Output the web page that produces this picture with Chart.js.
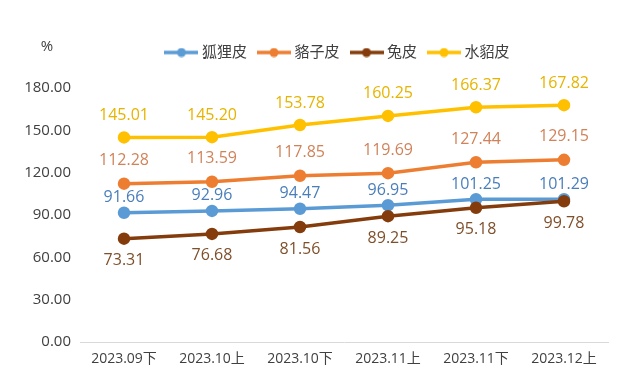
<!DOCTYPE html>
<html lang="zh">
<head>
    <meta charset="UTF-8">
    <title>皮张价格指数</title>
    <script src="https://cdn.jsdelivr.net/npm/chart.js"></script>
    <style>
        html, body { margin: 0; padding: 0; background: #fff; }
        #wrap { width: 632px; height: 387px; }
    </style>
</head>
<body>
    <div id="wrap"><canvas id="furChart" width="632" height="387"></canvas></div>

    <script>
        // Data
        const periods = ['2023.09下', '2023.10上', '2023.10下', '2023.11上', '2023.11下', '2023.12上'];
        const foxValues = [91.66, 92.96, 94.47, 96.95, 101.25, 101.29];
        const raccoonValues = [112.28, 113.59, 117.85, 119.69, 127.44, 129.15];
        const rabbitValues = [73.31, 76.68, 81.56, 89.25, 95.18, 99.78];
        const minkValues = [145.01, 145.20, 153.78, 160.25, 166.37, 167.82];
        const yTicks = [0, 30, 60, 90, 120, 150, 180];

        const FONT = "'Open Sans', 'Noto Sans CJK SC', sans-serif";

        // legend marker: short line with a dot in the middle
        function legendMarker(color) {
            const c = document.createElement('canvas');
            c.width = 34; c.height = 10;
            const g = c.getContext('2d');
            g.strokeStyle = color; g.lineWidth = 3.5;
            g.beginPath(); g.moveTo(0, 5); g.lineTo(34, 5); g.stroke();
            g.fillStyle = color;
            g.beginPath(); g.arc(17, 5, 4.5, 0, Math.PI * 2); g.fill();
            return c;
        }

        const series = [
            { label: '狐狸皮', data: foxValues, color: '#5B9BD5', text: '#4A7EBB', gap: -15, order: 3 },
            { label: '貉子皮', data: raccoonValues, color: '#ED7D31', text: '#D0835A', gap: -23, order: 2 },
            { label: '兔皮', data: rabbitValues, color: '#843C0C', text: '#7F4F2A', gap: 22, order: 1 },
            { label: '水貂皮', data: minkValues, color: '#FFC000', text: '#E6B400', gap: -22, order: 0 }
        ];

        // value labels above / below each point
        const valueLabels = {
            id: 'valueLabels',
            afterDatasetsDraw(chart) {
                const ctx = chart.ctx;
                ctx.save();
                ctx.font = '16px ' + FONT;
                ctx.textAlign = 'center';
                ctx.textBaseline = 'middle';
                chart.data.datasets.forEach((ds, i) => {
                    const s = series[i];
                    chart.getDatasetMeta(i).data.forEach((pt, j) => {
                        ctx.fillStyle = s.text;
                        ctx.fillText(ds.data[j].toFixed(2), pt.x, pt.y + s.gap);
                    });
                });
                ctx.restore();
            }
        };

        // unit text and legend placement
        const extras = {
            id: 'extras',
            afterLayout(chart) {
                const lg = chart.legend;
                lg.left += 35; lg.right += 35;
                lg.top -= 18; lg.bottom -= 18;
            },
            afterDraw(chart) {
                const ctx = chart.ctx;
                ctx.save();
                ctx.font = '15px ' + FONT;
                ctx.fillStyle = '#404040';
                ctx.textAlign = 'center';
                ctx.textBaseline = 'middle';
                ctx.fillText('%', 47, 47);
                ctx.restore();
            }
        };

        new Chart(document.getElementById('furChart').getContext('2d'), {
            type: 'line',
            data: {
                labels: periods,
                datasets: series.map(s => ({
                    label: s.label,
                    data: s.data,
                    borderColor: s.color,
                    backgroundColor: s.color,
                    pointBackgroundColor: s.color,
                    pointBorderColor: s.color,
                    borderWidth: 3.5,
                    pointRadius: 4.5,
                    pointHoverRadius: 4.5,
                    tension: 0,
                    order: s.order
                }))
            },
            options: {
                responsive: false,
                animation: false,
                layout: { padding: { top: 49, left: 0, right: 24, bottom: 12 } },
                plugins: {
                    tooltip: { enabled: false },
                    legend: {
                        position: 'top',
                        labels: {
                            usePointStyle: true,
                            pointStyleWidth: 26,
                            padding: 14,
                            color: '#404040',
                            font: { family: FONT, size: 15 },
                            sort: (a, b) => a.datasetIndex - b.datasetIndex,
                            generateLabels(chart) {
                                const items = Chart.defaults.plugins.legend.labels.generateLabels(chart);
                                items.forEach(it => { it.pointStyle = legendMarker(series[it.datasetIndex].color); });
                                return items;
                            }
                        }
                    }
                },
                scales: {
                    x: {
                        offset: true,
                        grid: { display: false, drawTicks: false },
                        border: { display: true, color: '#D9D9D9', width: 1 },
                        ticks: { color: '#404040', padding: 8, font: { family: FONT, size: 14 } }
                    },
                    y: {
                        min: 0,
                        max: 180,
                        afterBuildTicks(scale) { scale.ticks = yTicks.map(v => ({ value: v })); },
                        afterFit(scale) { scale.width = 80; },
                        grid: { display: false, drawTicks: false },
                        border: { display: false },
                        ticks: {
                            color: '#404040',
                            padding: 9,
                            font: { family: FONT, size: 15 },
                            callback: v => Number(v).toFixed(2)
                        }
                    }
                }
            },
            plugins: [valueLabels, extras]
        });
    </script>
</body>
</html>
